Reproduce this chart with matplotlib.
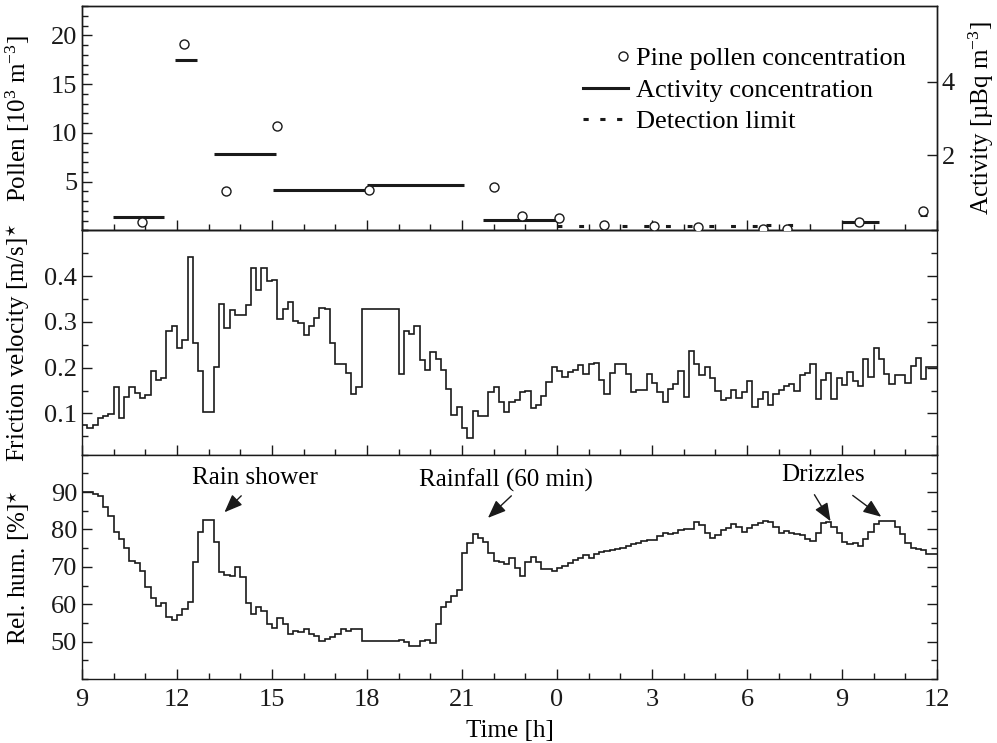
import matplotlib
matplotlib.use("Agg")
import matplotlib.pyplot as plt
import numpy as np
from matplotlib.legend_handler import HandlerLine2D
from matplotlib.lines import Line2D
from matplotlib.ticker import FixedLocator, FuncFormatter, MultipleLocator

plt.rcParams["font.family"] = ["Liberation Serif", "DejaVu Serif"]
plt.rcParams["mathtext.fontset"] = "custom"
plt.rcParams["mathtext.rm"] = "Liberation Serif"
plt.rcParams["mathtext.it"] = "Liberation Serif:italic"
plt.rcParams["font.size"] = 18

# time axis: hours since midnight of day 1 (9 h .. 36 h = 12 h next day), 10-min steps
T_START = 9.0
T_STEP = 1 / 6

# pine pollen concentration [10^3 m^-3], sample mid-times [h]
pollen_time = [10.89, 12.23, 13.55, 15.17, 18.06, 22.0, 22.88, 24.06,
               25.49, 27.06, 28.46, 30.51, 31.25, 33.53, 35.56]
pollen_conc = [0.9, 19.1, 4.0, 10.7, 4.15, 4.4, 1.5, 1.25,
               0.57, 0.40, 0.30, 0.19, 0.19, 0.9, 2.0]

# activity concentration [uBq m^-3], sampling intervals
act_start = [9.97, 11.94, 13.18, 15.02, 17.99, 21.67, 32.99, 35.46]
act_end = [11.59, 12.62, 15.13, 18.04, 21.07, 24.01, 34.17, 35.67]
act_conc = [0.31, 4.59, 2.03, 1.06, 1.18, 0.23, 0.18, 0.36]

# detection limit [uBq m^-3]
det_start = [24.0, 30.6]
det_end = [30.6, 32.0]
det_limit = [0.06, 0.09]

# friction velocity [m/s], 10-min means from 9:00
ustar = [
    0.074, 0.068, 0.074, 0.091, 0.095, 0.099,
    0.157, 0.091, 0.135, 0.158, 0.145, 0.134,
    0.141, 0.192, 0.174, 0.178, 0.280, 0.291,
    0.242, 0.260, 0.441, 0.253, 0.192, 0.103,
    0.103, 0.201, 0.340, 0.287, 0.325, 0.315,
    0.315, 0.337, 0.418, 0.369, 0.418, 0.390,
    0.392, 0.306, 0.328, 0.344, 0.302, 0.298,
    0.271, 0.290, 0.308, 0.331, 0.328, 0.254,
    0.207, 0.207, 0.189, 0.142, 0.157, 0.329,
    0.329, 0.329, 0.329, 0.329, 0.329, 0.329,
    0.187, 0.281, 0.273, 0.290, 0.216, 0.196,
    0.234, 0.218, 0.194, 0.153, 0.097, 0.115,
    0.068, 0.046, 0.106, 0.094, 0.094, 0.147,
    0.158, 0.125, 0.104, 0.126, 0.129, 0.148,
    0.150, 0.111, 0.118, 0.138, 0.169, 0.201,
    0.192, 0.180, 0.191, 0.194, 0.205, 0.186,
    0.208, 0.210, 0.173, 0.143, 0.189, 0.207,
    0.209, 0.186, 0.147, 0.152, 0.152, 0.187,
    0.166, 0.148, 0.124, 0.154, 0.164, 0.192,
    0.137, 0.236, 0.208, 0.183, 0.201, 0.178,
    0.150, 0.129, 0.134, 0.152, 0.134, 0.146,
    0.172, 0.115, 0.131, 0.146, 0.119, 0.143,
    0.151, 0.159, 0.164, 0.149, 0.185, 0.188,
    0.207, 0.132, 0.174, 0.189, 0.131, 0.178,
    0.163, 0.191, 0.170, 0.160, 0.218, 0.180,
    0.242, 0.218, 0.187, 0.165, 0.183, 0.183,
    0.166, 0.203, 0.221, 0.176, 0.201, 0.201,
]

# relative humidity [%], 10-min means from 9:00
rel_hum = [
    89.9, 89.9, 89.6, 89.0, 85.9, 83.7,
    79.4, 77.4, 75.1, 71.6, 71.0, 68.9,
    64.5, 61.6, 59.4, 60.3, 56.7, 55.7,
    57.2, 58.8, 60.6, 71.2, 79.4, 82.5,
    82.5, 76.7, 68.7, 67.8, 67.5, 70.0,
    67.2, 60.3, 57.5, 59.2, 58.1, 54.8,
    53.6, 56.4, 54.8, 52.1, 52.8, 52.6,
    53.5, 52.1, 51.4, 50.2, 50.8, 51.3,
    52.1, 53.5, 52.8, 53.5, 53.5, 50.1,
    50.1, 50.1, 50.1, 50.1, 50.1, 50.1,
    50.4, 49.8, 48.9, 48.9, 50.2, 50.4,
    49.7, 54.6, 59.2, 60.7, 62.3, 63.8,
    73.6, 76.5, 78.8, 77.8, 76.7, 73.6,
    71.6, 71.2, 70.8, 72.5, 69.6, 67.6,
    71.2, 72.7, 71.3, 69.4, 69.4, 69.0,
    69.6, 70.3, 70.9, 71.9, 72.5, 73.1,
    72.5, 73.4, 74.0, 74.3, 74.5, 74.9,
    75.1, 75.6, 76.0, 76.5, 76.8, 77.1,
    77.2, 78.2, 79.1, 78.7, 79.1, 79.8,
    80.2, 80.2, 82.1, 81.1, 79.1, 77.8,
    78.4, 79.8, 80.5, 81.4, 80.7, 79.4,
    80.5, 81.1, 81.8, 82.3, 82.0, 80.7,
    79.1, 79.6, 79.1, 78.7, 78.4, 77.5,
    76.9, 79.0, 81.6, 82.0, 80.7, 79.1,
    76.7, 76.0, 76.3, 75.6, 77.5, 79.3,
    81.4, 82.3, 82.3, 82.3, 80.7, 78.7,
    76.5, 75.1, 74.7, 74.4, 73.4, 73.4,
]

INK = "#1a1a1a"
TICK_SIZE = 19
LABEL_SIZE = 18


class MarkerAtEnd(HandlerLine2D):
    # single legend marker sits next to the label, not in the middle of the handle
    def get_xdata(self, legend, xdescent, ydescent, width, height, fontsize):
        xm = -xdescent + width - 3.5
        return np.array([xm - 1.0, xm + 1.0]), np.array([xm])


def style_axis(ax, right=True):
    ax.set_xlim(9, 36)
    ax.xaxis.set_major_locator(MultipleLocator(3))
    ax.xaxis.set_minor_locator(MultipleLocator(1))
    ax.xaxis.set_major_formatter(FuncFormatter(lambda v, p: f"{int(round(v)) % 24}"))
    ax.tick_params(which="both", direction="in", top=False, right=right,
                   width=1.0, colors=INK, labelsize=TICK_SIZE)
    ax.tick_params(which="major", length=7)
    ax.tick_params(which="minor", length=4)
    ax.tick_params(axis="x", which="major", pad=7.5)
    for sp in ax.spines.values():
        sp.set_linewidth(1.0)
        sp.set_color(INK)
    ax.yaxis.set_label_coords(-0.058, 0.5)


fig, (ax1, ax2, ax3) = plt.subplots(3, 1, figsize=(9.97, 7.43), dpi=100, sharex=True)
fig.subplots_adjust(left=0.0822, right=0.9398, top=0.9919, bottom=0.0861, hspace=0)

# --- top: pollen and activity
style_axis(ax1, right=False)
ax1.set_ylim(0, 23)
ax1.yaxis.set_major_locator(FixedLocator([5, 10, 15, 20]))
ax1.yaxis.set_minor_locator(MultipleLocator(1))
ax1.set_ylabel(r"Pollen [10$^3$ m$^{-3}$]", fontsize=LABEL_SIZE)
p_line, = ax1.plot(pollen_time, pollen_conc, ls="none", marker="o", ms=6.5,
                   mfc="white", mec=INK, mew=1.0, zorder=4)

ax1r = ax1.twinx()
ax1r.set_ylim(-0.05, 6.06)
ax1r.yaxis.set_major_locator(FixedLocator([2, 4]))
ax1r.tick_params(which="both", direction="in", length=7, width=1.0, colors=INK,
                 labelsize=TICK_SIZE)
for sp in ax1r.spines.values():
    sp.set_linewidth(1.0)
    sp.set_color(INK)
ax1r.set_ylabel(r"Activity [µBq m$^{-3}$]", fontsize=LABEL_SIZE)
ax1r.yaxis.set_label_coords(1.035, 0.5)
ax1r.hlines(act_conc, act_start, act_end, colors=INK, lw=2.2, zorder=3)
ax1r.hlines(det_limit, det_start, det_end, colors=INK, lw=2.2,
            linestyles=[(0, (1.6, 5.5))], zorder=3)
ax1.set_zorder(ax1r.get_zorder() + 1)
ax1.patch.set_visible(False)

h_act = Line2D([], [], color=INK, lw=2.2)
h_det = Line2D([], [], color=INK, lw=2.2, ls=(0, (1.7, 3.8)))
ax1.legend([p_line, h_act, h_det],
           ["Pine pollen concentration", "Activity concentration", "Detection limit"],
           handler_map={p_line: MarkerAtEnd(numpoints=1)},
           loc="upper right", bbox_to_anchor=(0.985, 0.9), frameon=False,
           fontsize=19, handlelength=1.7, handletextpad=0.3, labelspacing=0.3,
           borderaxespad=0.3)

# --- middle: friction velocity
style_axis(ax2)
edges = T_START + np.arange(len(ustar) + 1) * T_STEP
ax2.stairs(ustar, edges, baseline=None, color=INK, lw=1.2)
ax2.set_ylim(0.01, 0.5)
ax2.yaxis.set_major_locator(FixedLocator([0.1, 0.2, 0.3, 0.4]))
ax2.yaxis.set_minor_locator(MultipleLocator(0.05))
ax2.set_ylabel(r"Friction velocity [m/s]$^{\star}$", fontsize=LABEL_SIZE)

# --- bottom: relative humidity
style_axis(ax3)
edges = T_START + np.arange(len(rel_hum) + 1) * T_STEP
ax3.stairs(rel_hum, edges, baseline=None, color=INK, lw=1.2)
ax3.set_ylim(40, 100)
ax3.yaxis.set_major_locator(FixedLocator([50, 60, 70, 80, 90]))
ax3.yaxis.set_minor_locator(MultipleLocator(5))
ax3.set_ylabel(r"Rel. hum. [%]$^{\star}$", fontsize=LABEL_SIZE)
ax3.set_xlabel("Time [h]", fontsize=LABEL_SIZE, labelpad=6.5)

arrow = dict(arrowstyle="-|>,head_length=0.55,head_width=0.22", mutation_scale=20,
             color=INK, lw=1.0, shrinkA=0, shrinkB=0)
ax3.text(14.45, 93.7, "Rain shower", ha="center", va="center", fontsize=18)
ax3.annotate("", xy=(13.5, 84.6), xytext=(14.03, 89.0), arrowprops=arrow)
ax3.text(22.4, 93.1, "Rainfall (60 min)", ha="center", va="center", fontsize=18)
ax3.annotate("", xy=(21.82, 83.1), xytext=(22.56, 89.0), arrowprops=arrow)
ax3.text(32.4, 94.6, "Drizzles", ha="center", va="center", fontsize=18)
ax3.annotate("", xy=(32.64, 82.2), xytext=(32.13, 89.3), arrowprops=arrow)
ax3.annotate("", xy=(34.24, 83.4), xytext=(33.34, 89.1), arrowprops=arrow)

fig.savefig("out.png", dpi=100)
